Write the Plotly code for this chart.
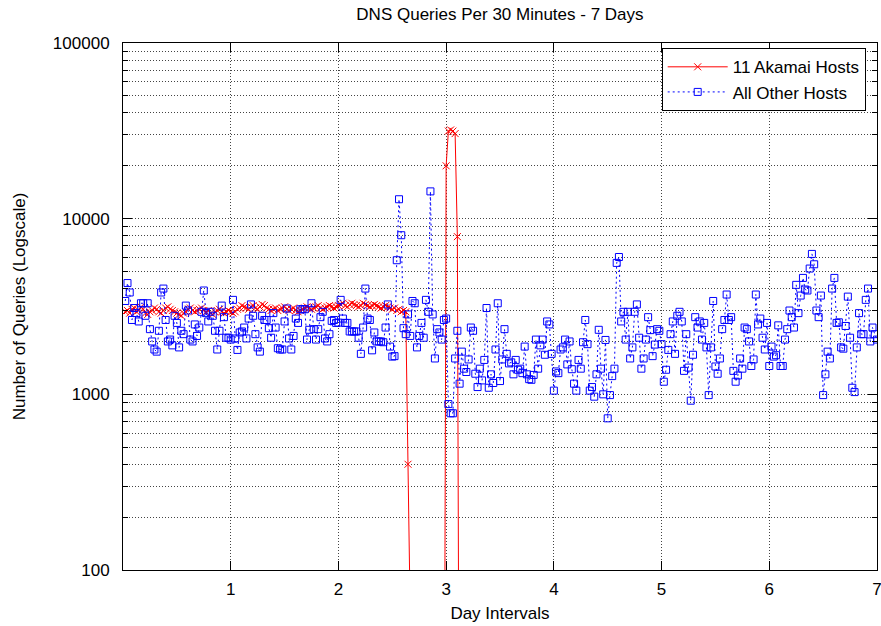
import numpy as np
import plotly.graph_objects as go

SAMPLES_PER_DAY = 48

# Queries per 30-minute interval, "All Other Hosts" (336 samples = 7 days)
other_hosts = [
    3400, 4300, 3800, 2650, 3100, 2900, 2600, 3300, 3300, 2800,
    3300, 2350, 2000, 1800, 1750, 2300, 3800, 4000, 2650, 2000,
    2050, 1900, 2800, 2550, 1850, 2300, 2200, 3200, 3000, 2050,
    2000, 2500, 2150, 2400, 2950, 3900, 2900, 2600, 2950, 2800,
    2300, 1800, 2300, 3200, 2750, 2100, 2100, 2050, 3450, 2080,
    1790, 2250, 2280, 2400, 2080, 2700, 3250, 2800, 2200, 1850,
    1750, 2800, 2650, 2650, 2380, 2100, 2900, 2400, 1830, 1800,
    1800, 2600, 3080, 2080, 1800, 2150, 2700, 2550, 3050, 3050,
    3050, 2050, 2330, 3300, 2350, 2050, 2350, 2750, 2950, 2080,
    2000, 2200, 2620, 2650, 2550, 2560, 3450, 2700, 2550, 2550,
    2280, 2280, 2280, 2280, 2100, 1700, 2400, 4000, 2700, 2650,
    1780, 2250, 2000, 2000, 2000, 1980, 2400, 3250, 1870, 1640,
    1650, 5800, 12900, 8050, 2380, 2200, 2850, 2150, 3400, 3300,
    1850, 2150, 2550, 2100, 3450, 2950, 14300, 2850, 1600, 2350,
    2250, 2050, 2650, 2700, 880, 780, 780, 1600, 2300, 1150,
    1750, 1400, 1340, 1580, 2400, 2300, 1310, 1100, 1400, 1200,
    1570, 3100, 1090, 1300, 1160, 1800, 3300, 1190, 1580, 2350,
    1700, 1500, 1520, 1300, 1570, 1380, 1400, 1320, 1870, 1300,
    1220, 1210, 1290, 2050, 1400, 1900, 2050, 1680, 2600, 2500,
    1700, 1050, 1350, 1320, 1800, 1850, 2050, 1480, 2000, 1390,
    1150, 1050, 1570, 1400, 1980, 2650, 1930, 1050, 1100, 970,
    1300, 2330, 1400, 1000, 2040, 730, 990, 1270, 1400, 5600,
    6050, 2600, 2950, 2050, 2950, 1600, 1850, 2950, 3250, 2100,
    1400, 1600, 2050, 2750, 2320, 1650, 1920, 2350, 2300, 1930,
    1180, 1380, 1790, 2200, 2600, 1700, 2800, 2950, 2600, 1360,
    2200, 1420, 920, 1680, 2750, 2400, 2600, 2050, 2550, 1850,
    990, 1850, 3400, 1440, 1310, 1600, 2350, 2650, 3700, 2650,
    2750, 1360, 1180, 1280, 1600, 1400, 2400, 2350, 2000, 1450,
    1580, 3700, 2500, 2700, 2100, 1800, 2550, 1450, 1870, 1640,
    1670, 2470, 1450, 1450, 2050, 2350, 3000, 2750, 2400, 4200,
    2900, 3650, 4600, 3950, 3900, 5200, 6300, 5500, 3000, 2750,
    3650, 990, 1300, 1750, 1600, 4000, 4600, 2550, 2570, 1850,
    1820, 2450, 3600, 2100, 1090, 1030, 1850, 2900, 2200, 2200,
    3450, 4000, 2000, 2400, 2200, 2050,
]

# Queries per 30-minute interval, "11 Akamai Hosts" (series ends after the spike)
akamai_hosts = [
    2950, 3000, 2900, 3050, 3100, 2950, 3000, 3150, 3050, 2900, 2850, 2950,
    3000, 3100, 3050, 2950, 2900, 3000, 3100, 3150, 3050, 3000, 2950, 2900,
    2850, 2800, 2900, 2950, 3050, 3100, 3000, 2950, 3000, 3050, 3100, 3000,
    2950, 3000, 2900, 2850, 2950, 3000, 3050, 2950, 2900, 2950, 3000, 2950,
    2900, 2950, 3050, 3100, 3200, 3150, 3100, 3050, 3150, 3200, 3100, 3050,
    3150, 3250, 3200, 3100, 3050, 3000, 3050, 3100, 3000, 3050, 3100, 3150,
    3050, 3000, 3050, 3100, 3000, 2950, 3000, 3050, 3100, 3150, 3100, 3050,
    3100, 3150, 3200, 3100, 3050, 3100, 3150, 3200, 3150, 3100, 3150, 3200,
    3250, 3300, 3200, 3150, 3250, 3300, 3250, 3200, 3150, 3200, 3300, 3250,
    3200, 3150, 3200, 3250, 3200, 3150, 3100, 3150, 3200, 3150, 3100, 3050,
    3100, 3000, 3050, 2950, 3000, 2950, 400,
    0, 0, 0, 0, 0, 0, 0, 0, 0, 0, 0, 0, 0, 0, 0, 0,
    20000, 31500, 32000, 31500, 30500, 7900, 0,
]

x_ticks = [1, 2, 3, 4, 5, 6, 7]
x_tick_labels = ["1", "2", "3", "4", "5", "6", "7"]
y_ticks = [100, 1000, 10000, 100000]
y_tick_labels = ["100", "1000", "10000", "100000"]
y_minor = [m * 10 ** e for e in (2, 3, 4) for m in range(2, 10)]

x_other = np.arange(1, len(other_hosts) + 1) / SAMPLES_PER_DAY
x_akamai = np.arange(1, len(akamai_hosts) + 1) / SAMPLES_PER_DAY
# zero counts cannot be shown on a log axis: send them below the visible range
akamai_plot = [v if v > 0 else 1 for v in akamai_hosts]

FONT = dict(family="Liberation Sans, Arial, sans-serif", size=17, color="black")
GRID = dict(showgrid=True, gridcolor="#444444", gridwidth=1, griddash="1px,2px")

fig = go.Figure()
fig.add_trace(go.Scatter(
    x=x_akamai, y=akamai_plot, mode="lines+markers", name="11 Akamai Hosts",
    line=dict(color="#ff0000", width=1),
    marker=dict(symbol="x-thin", size=7, color="#ff0000",
                line=dict(color="#ff0000", width=1)),
))
fig.add_trace(go.Scatter(
    x=x_other, y=other_hosts, mode="lines+markers", name="All Other Hosts",
    line=dict(color="#0000ff", width=1, dash="2px,3px"),
    marker=dict(symbol="square-open", size=7, color="#0000ff",
                line=dict(color="#0000ff", width=1)),
))

fig.update_layout(
    width=881, height=626,
    margin=dict(l=123, r=4, t=43, b=56, pad=0, autoexpand=False),
    paper_bgcolor="white", plot_bgcolor="white",
    font=FONT,
    title=dict(text="DNS Queries Per 30 Minutes - 7 Days", x=0.5675, xanchor="center",
               y=0.978, yanchor="middle", font=FONT),
    showlegend=True,
    legend=dict(x=0.985, y=0.99, xanchor="right", yanchor="top",
                bgcolor="white", bordercolor="black", borderwidth=1,
                font=FONT, itemwidth=60, tracegroupgap=0),
    xaxis=dict(
        range=[0, 7], tickmode="array", tickvals=x_ticks, ticktext=x_tick_labels,
        ticks="inside", ticklen=9, tickcolor="black", tickwidth=1,
        showline=True, linecolor="black", linewidth=1, mirror="ticks",
        zeroline=False, tickfont=FONT, ticklabelstandoff=4, automargin=False,
        ticklabeloverflow="allow",
        title=dict(text="Day Intervals", font=FONT, standoff=8),
        **GRID,
    ),
    yaxis=dict(
        type="log", range=[2, 5], tickmode="array",
        tickvals=y_ticks, ticktext=y_tick_labels,
        ticks="inside", ticklen=9, tickcolor="black", tickwidth=1,
        showline=True, linecolor="black", linewidth=1, mirror="ticks",
        zeroline=False, tickfont=FONT, ticklabelstandoff=9, automargin=False,
        title=dict(text="Number of Queries (Logscale)", font=FONT, standoff=22),
        minor=dict(tickmode="array", tickvals=y_minor, ticks="inside", ticklen=5,
                   tickcolor="black", **GRID),
        **GRID,
    ),
)

fig.write_html(
    "out.html",
    config={"displayModeBar": False},
    post_script="document.body.style.margin='0';document.body.style.overflow='hidden';",
)
